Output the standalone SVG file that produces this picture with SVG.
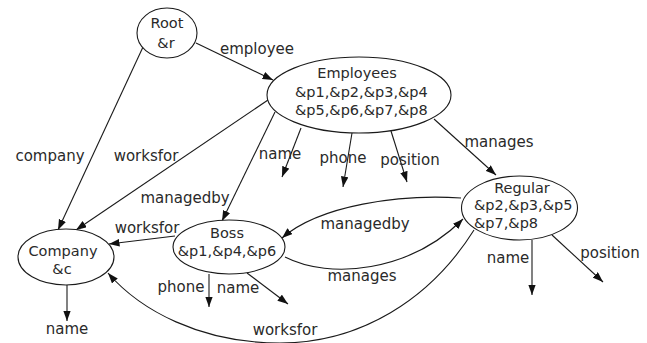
<svg xmlns="http://www.w3.org/2000/svg" width="647" height="343" viewBox="0 0 647 343">
  <style>
    .node ellipse { fill: #ffffff; stroke: #1a1a1a; stroke-width: 1.1; }
    text { font-family: "DejaVu Sans", "Liberation Sans", sans-serif; font-size: 14.5px; fill: #2a2a2a; }
    #connectors text { font-size: 15px; }
    .mid { text-anchor: middle; }
    .edge { fill: none; stroke: #1a1a1a; stroke-width: 1.1; marker-end: url(#arrow); }
  </style>
  <defs>
    <marker id="arrow" markerUnits="userSpaceOnUse" markerWidth="11" markerHeight="8" refX="10.5" refY="3.8" orient="auto">
      <path d="M0,0 L10.5,3.8 L0,7.6 z" fill="#111111"/>
    </marker>
  </defs>
  <rect width="647" height="343" fill="#ffffff"/>

  <!-- connectors -->
  <g id="connectors">
    <path class="edge" d="M196,43 L273,80"/>
    <path class="edge" d="M143,47 L58,230"/>
    <path class="edge" d="M268,100 L76,230"/>
    <path class="edge" d="M275,112 L222,221"/>
    <path class="edge" d="M301,128 L282,177"/>
    <path class="edge" d="M352,133 L343,187"/>
    <path class="edge" d="M391,131 L407,182"/>
    <path class="edge" d="M434,119 L496,175"/>
    <path class="edge" d="M461,198 C400,194 320,205 282,238"/>
    <path class="edge" d="M285,257 C330,280 410,272 463,219"/>
    <path class="edge" d="M474,230 C430,300 360,343 280,343 C200,343 140,310 108,273"/>
    <path class="edge" d="M175,236 L109,244"/>
    <path class="edge" d="M209,274 L209,307"/>
    <path class="edge" d="M247,273 L288,304"/>
    <path class="edge" d="M532,240 L532,295"/>
    <path class="edge" d="M552,235 L603,282"/>
    <path class="edge" d="M67,285 L67,321"/>

    <text class="mid" x="257" y="54">employee</text>
    <text class="mid" x="50" y="161">company</text>
    <text class="mid" x="146" y="161">worksfor</text>
    <text class="mid" x="280" y="159">name</text>
    <text class="mid" x="343" y="163">phone</text>
    <text class="mid" x="410" y="165">position</text>
    <text class="mid" x="499" y="147">manages</text>
    <text class="mid" x="185" y="203">managedby</text>
    <text class="mid" x="147" y="233">worksfor</text>
    <text class="mid" x="365" y="229">managedby</text>
    <text class="mid" x="362" y="281">manages</text>
    <text class="mid" x="181" y="292">phone</text>
    <text class="mid" x="238" y="293">name</text>
    <text class="mid" x="285" y="335">worksfor</text>
    <text class="mid" x="508" y="263">name</text>
    <text class="mid" x="610" y="258">position</text>
    <text class="mid" x="67" y="334">name</text>
  </g>

  <!-- nodes -->
  <g id="root" class="node">
    <ellipse cx="167" cy="33" rx="30" ry="25"/>
    <text class="mid" x="167" y="28">Root</text>
    <text class="mid" x="166" y="48">&amp;r</text>
  </g>
  <g id="employees" class="node">
    <ellipse cx="359" cy="95" rx="92" ry="38"/>
    <text class="mid" x="357" y="78">Employees</text>
    <text x="295" y="97">&amp;p1,&amp;p2,&amp;p3,&amp;p4</text>
    <text x="295" y="115">&amp;p5,&amp;p6,&amp;p7,&amp;p8</text>
  </g>
  <g id="regular" class="node">
    <ellipse cx="519.5" cy="208" rx="58" ry="32"/>
    <text class="mid" x="522" y="193">Regular</text>
    <text x="474" y="210">&amp;p2,&amp;p3,&amp;p5</text>
    <text x="474" y="228">&amp;p7,&amp;p8</text>
  </g>
  <g id="boss" class="node">
    <ellipse cx="229" cy="247" rx="56" ry="27"/>
    <text class="mid" x="227" y="238">Boss</text>
    <text class="mid" x="227" y="256">&amp;p1,&amp;p4,&amp;p6</text>
  </g>
  <g id="company" class="node">
    <ellipse cx="66" cy="257" rx="48" ry="28"/>
    <text class="mid" x="63" y="256">Company</text>
    <text class="mid" x="62" y="274">&amp;c</text>
  </g>
</svg>
